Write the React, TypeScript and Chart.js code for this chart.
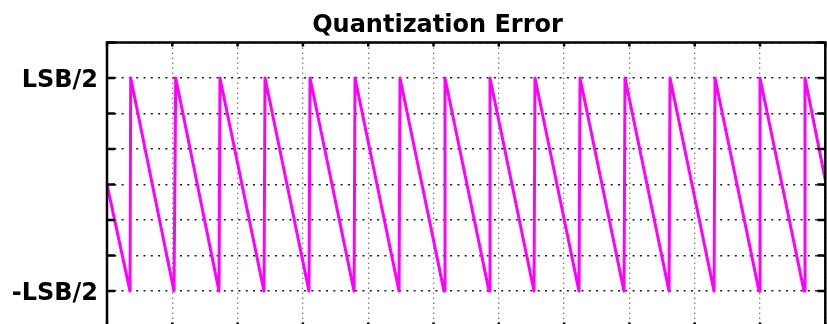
import { useEffect, useRef } from 'react';
import { Chart, registerables } from 'chart.js';

Chart.register(...registerables);

// ---- data -------------------------------------------------------------
const chartTitle = 'Quantization Error';

// x positions of the sawtooth vertices (axis units)
const errorX = [
  0, 0.352, 0.363, 1.026, 1.052, 1.715, 1.73, 2.404, 2.42, 3.093, 3.109,
  3.783, 3.798, 4.472, 4.487, 5.161, 5.176, 5.85, 5.865, 6.539, 6.554,
  7.228, 7.244, 7.917, 7.933, 8.607, 8.622, 9.296, 9.311, 9.985, 10.0,
  10.674, 10.689, 11,
];
// error value at each vertex, in LSB
const errorY = [
  0, -0.5, 0.5, -0.5, 0.5, -0.5, 0.5, -0.5, 0.5, -0.5, 0.5,
  -0.5, 0.5, -0.5, 0.5, -0.5, 0.5, -0.5, 0.5, -0.5, 0.5,
  -0.5, 0.5, -0.5, 0.5, -0.5, 0.5, -0.5, 0.5, -0.5, 0.5,
  -0.5, 0.5, 0.02,
];

const xTicks = [0, 1, 2, 3, 4, 5, 6, 7, 8, 9, 10, 11];
const yTicks = [-2 / 3, -1 / 2, -1 / 3, -1 / 6, 0, 1 / 6, 1 / 3, 1 / 2, 2 / 3];
const yLabelValues = [-0.5, 0.5];
const yLabelTexts = ['-LSB/2', 'LSB/2'];

// ---- styling ----------------------------------------------------------
const CANVAS_W = 827;
const CANVAS_H = 350;
const FONT_FAMILY = '"DejaVu Sans", "Liberation Sans", Arial, sans-serif';

// MATLAB-style box with inward tick marks on all four sides, plus title
const frameAndTitle = {
  id: 'frameAndTitle',
  afterDraw(chart: any) {
    const { ctx, chartArea } = chart;
    const { left, right, top, bottom } = chartArea;
    const xs = chart.scales.x;
    const ys = chart.scales.y;
    ctx.save();
    ctx.strokeStyle = '#000';
    ctx.lineWidth = 2.5;
    ctx.strokeRect(left, top, right - left, bottom - top);

    ctx.beginPath();
    for (const v of yTicks) {
      const py = ys.getPixelForValue(v);
      ctx.moveTo(left, py);
      ctx.lineTo(left + 8, py);
      ctx.moveTo(right, py);
      ctx.lineTo(right - 8, py);
    }
    for (const v of xTicks) {
      const px = xs.getPixelForValue(v);
      ctx.moveTo(px, top);
      ctx.lineTo(px, top + 4);
      ctx.moveTo(px, bottom);
      ctx.lineTo(px, bottom - 4);
    }
    ctx.stroke();

    ctx.fillStyle = '#000';
    ctx.font = `bold 24px ${FONT_FAMILY}`;
    ctx.textAlign = 'center';
    ctx.textBaseline = 'alphabetic';
    ctx.fillText(chartTitle, 437.5, 31.5);
    ctx.restore();
  },
};

export default function App() {
  const canvasRef = useRef<HTMLCanvasElement | null>(null);

  useEffect(() => {
    document.body.style.overflow = 'hidden';
    const canvas = canvasRef.current;
    if (!canvas) return;

    const points = errorX.map((x, i) => ({ x, y: errorY[i] }));

    const chart = new Chart(canvas, {
      type: 'line',
      data: {
        datasets: [
          {
            data: points,
            borderColor: '#ff00ff',
            borderWidth: 3,
            borderJoinStyle: 'round',
            pointRadius: 0,
            tension: 0,
            fill: false,
          },
        ],
      },
      options: {
        animation: false,
        responsive: false,
        devicePixelRatio: 1,
        layout: { padding: { top: 42.5, right: 1.7, bottom: 8.5, left: 0 } },
        plugins: {
          legend: { display: false },
          title: { display: false },
          tooltip: { enabled: false },
        },
        scales: {
          x: {
            type: 'linear',
            min: 0,
            max: 11,
            afterBuildTicks: (scale: any) => {
              scale.ticks = xTicks.map((value) => ({ value }));
            },
            afterFit: (scale: any) => {
              scale.height = 0;
            },
            ticks: { display: false },
            grid: { color: '#808080', lineWidth: 1.3, drawTicks: false },
            border: { display: false, dash: [1.5, 3.5] },
          },
          y: {
            type: 'linear',
            min: -2 / 3,
            max: 2 / 3,
            afterBuildTicks: (scale: any) => {
              scale.ticks = yTicks.map((value) => ({ value }));
            },
            afterFit: (scale: any) => {
              scale.width = 107;
            },
            ticks: {
              autoSkip: false,
              padding: 9,
              labelOffset: 3,
              color: '#000',
              font: { family: FONT_FAMILY, weight: 'bold', size: 24 },
              callback: (value: any) => {
                const idx = yLabelValues.findIndex((v) => Math.abs(v - Number(value)) < 1e-6);
                return idx >= 0 ? yLabelTexts[idx] : '';
              },
            },
            grid: { color: '#1a1a1a', lineWidth: 1.5, drawTicks: false },
            border: { display: false, dash: [2, 5.3] },
          },
        },
      },
      plugins: [frameAndTitle],
    } as any);

    return () => chart.destroy();
  }, []);

  return (
    <div style={{ position: 'fixed', left: 0, top: 0, width: CANVAS_W, height: CANVAS_H, background: '#fff' }}>
      <canvas ref={canvasRef} width={CANVAS_W} height={CANVAS_H} style={{ display: 'block' }} />
    </div>
  );
}
